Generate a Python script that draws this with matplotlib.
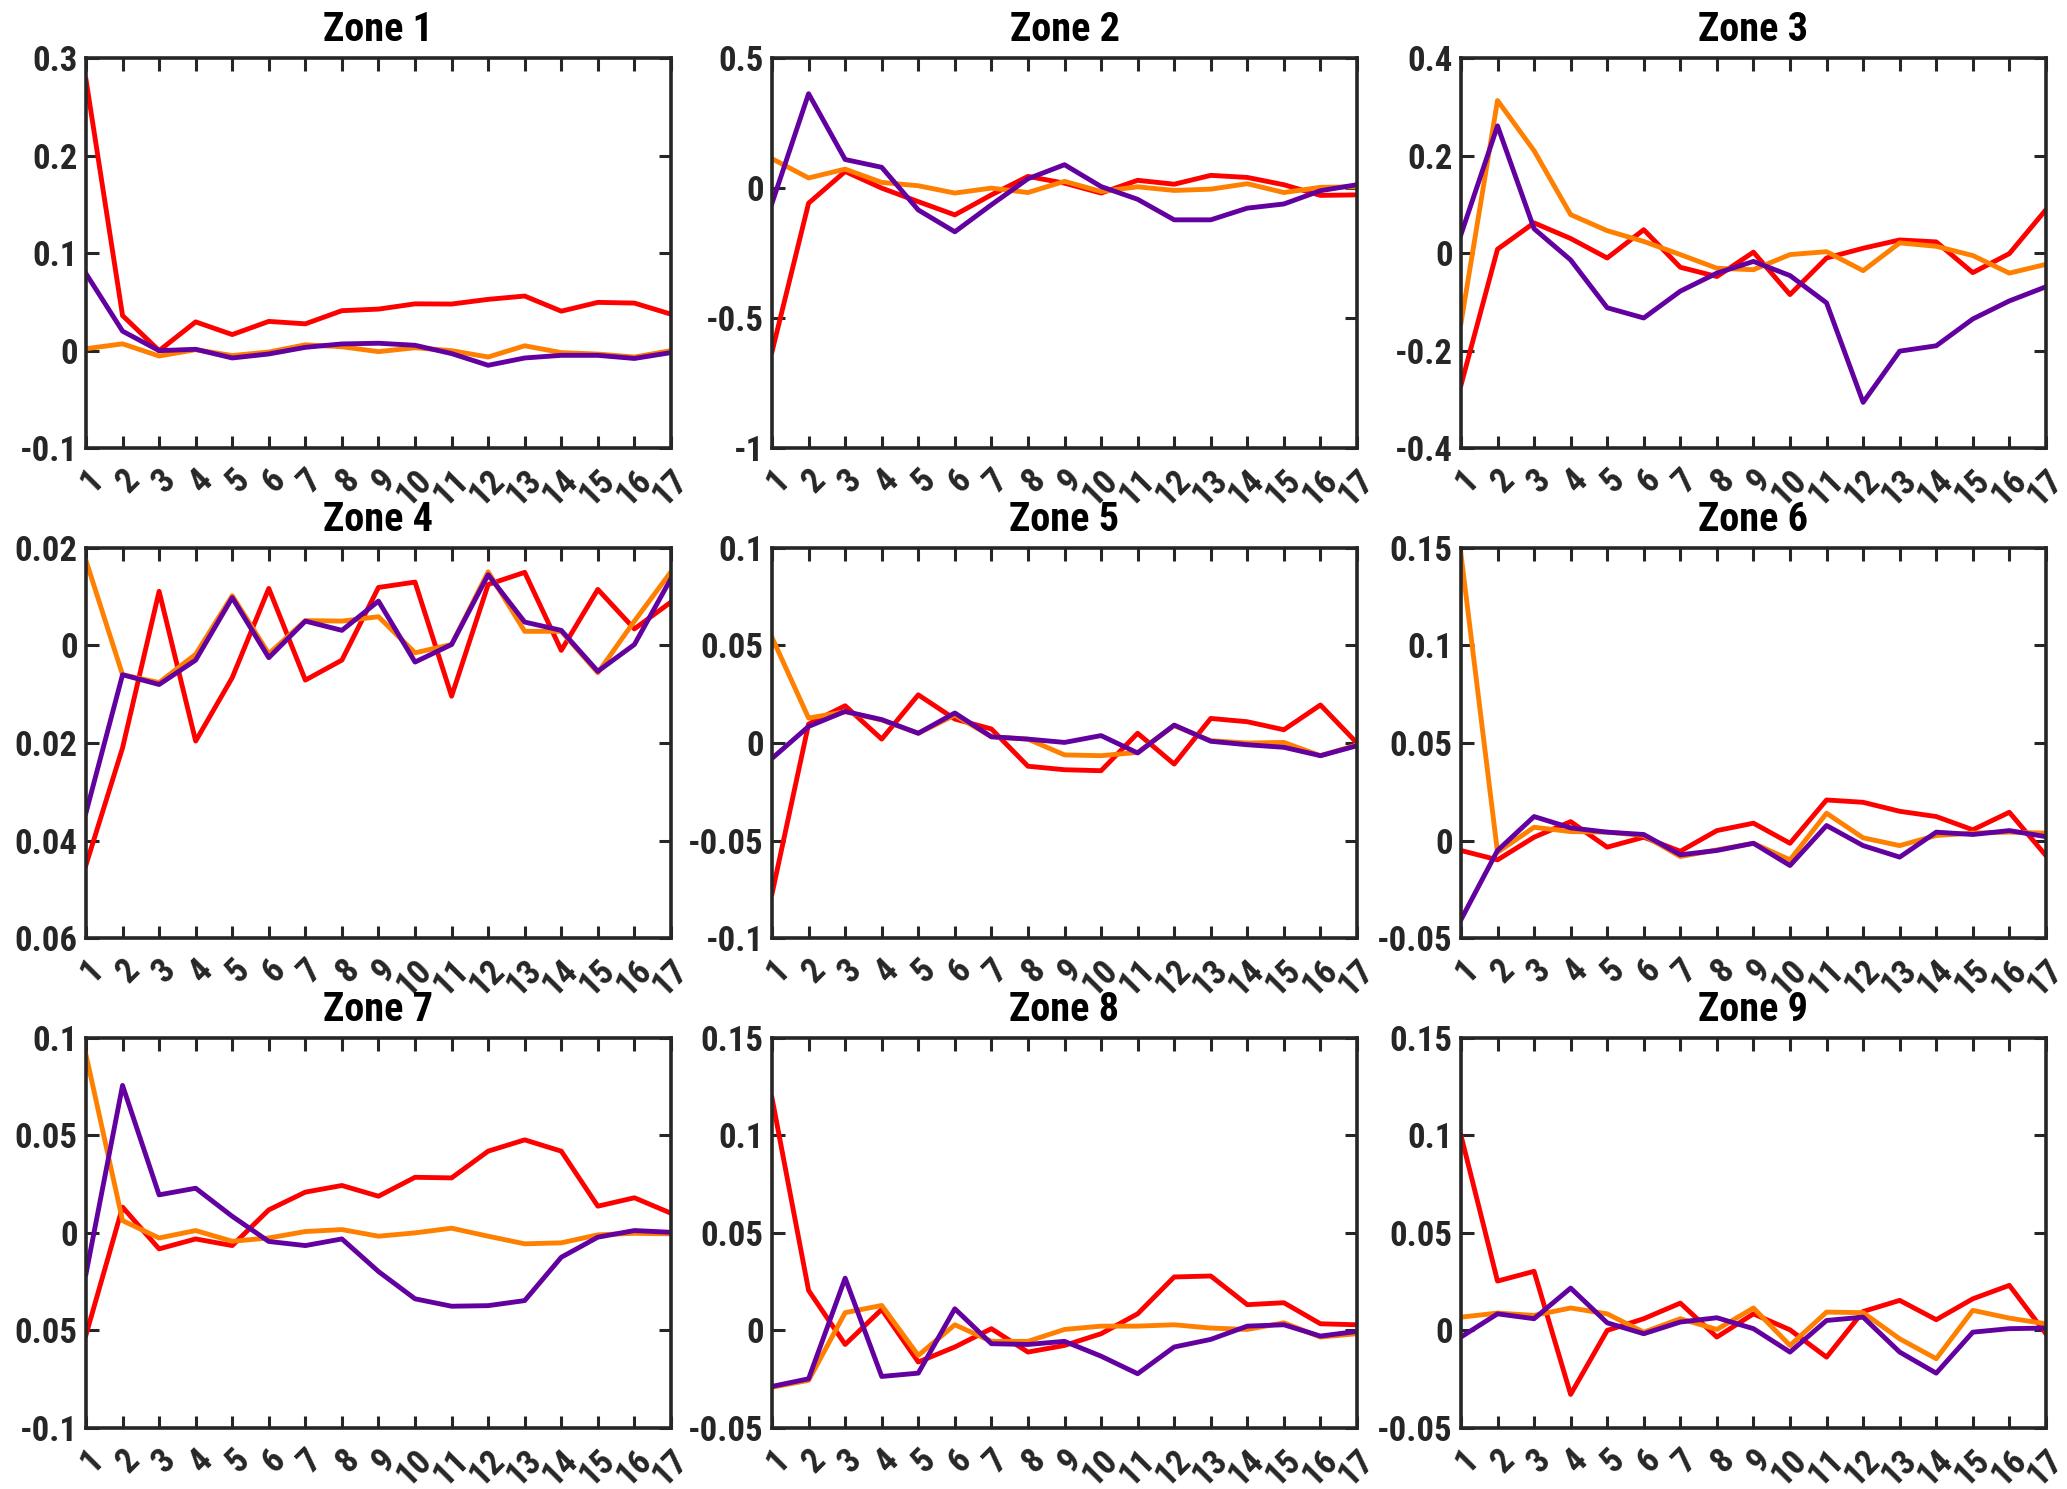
import numpy as np
import matplotlib
matplotlib.use("Agg")
import matplotlib.pyplot as plt
from matplotlib import font_manager

# pick a narrow-ish bold sans if one is installed
installed = {f.name for f in font_manager.fontManager.ttflist}
family = 'Liberation Sans'
for cand in ['Roboto Condensed', 'Liberation Sans Narrow', 'Open Sans Condensed', 'Liberation Sans']:
    if cand in installed:
        family = cand
        break
plt.rcParams['font.family'] = [family, 'DejaVu Sans']
plt.rcParams['font.weight'] = 'bold'
plt.rcParams['axes.unicode_minus'] = False

steps = list(range(1, 18))
zones = ['Zone 1', 'Zone 2', 'Zone 3', 'Zone 4', 'Zone 5', 'Zone 6', 'Zone 7', 'Zone 8', 'Zone 9']

# series per zone (red, orange, purple)
red = [
    [0.278, 0.036, 0.0, 0.0295, 0.0165, 0.030, 0.0275, 0.041, 0.0426, 0.048, 0.0478, 0.0526, 0.056, 0.0405, 0.0495, 0.0488, 0.0374],
    [-0.629, -0.058, 0.064, 0.0, -0.052, -0.103, -0.026, 0.045, 0.019, -0.019, 0.030, 0.015, 0.049, 0.041, 0.013, -0.028, -0.026],
    [-0.271, 0.008, 0.062, 0.030, -0.010, 0.048, -0.029, -0.048, 0.002, -0.085, -0.010, 0.010, 0.027, 0.023, -0.040, -0.001, 0.089],
    [-0.045, -0.021, 0.0111, -0.0196, -0.0066, 0.0117, -0.0071, -0.003, 0.0119, 0.013, -0.0104, 0.0125, 0.015, -0.001, 0.0115, 0.0034, 0.0089],
    [-0.0773, 0.0097, 0.0191, 0.002, 0.0247, 0.0123, 0.0072, -0.0119, -0.0137, -0.0142, 0.005, -0.0108, 0.0126, 0.0109, 0.0068, 0.0195, 0.0],
    [-0.0051, -0.0099, 0.0017, 0.0097, -0.0034, 0.0017, -0.0055, 0.0051, 0.0089, -0.0014, 0.0208, 0.0196, 0.015, 0.0123, 0.0055, 0.0145, -0.0077],
    [-0.0523, 0.0132, -0.0082, -0.0031, -0.0065, 0.0118, 0.0209, 0.0243, 0.0188, 0.0285, 0.0282, 0.0419, 0.0477, 0.0419, 0.0137, 0.018, 0.0101],
    [0.1191, 0.0205, -0.0072, 0.0108, -0.0162, -0.0085, 0.0009, -0.0111, -0.0077, -0.0017, 0.0085, 0.0274, 0.0279, 0.0132, 0.0142, 0.0034, 0.0029],
    [0.1, 0.0253, 0.0303, -0.0328, 0.0, 0.006, 0.014, -0.0034, 0.0085, 0.0003, -0.0137, 0.0097, 0.0154, 0.0055, 0.0162, 0.0231, -0.0017],
]
orange = [
    [0.002, 0.007, -0.0055, 0.001, -0.005, -0.0014, 0.006, 0.004, -0.001, 0.003, 0.0, -0.0065, 0.005, -0.002, -0.0035, -0.0065, 0.0],
    [0.113, 0.039, 0.073, 0.022, 0.009, -0.019, 0.0, -0.017, 0.026, -0.013, 0.005, -0.009, -0.004, 0.017, -0.017, 0.003, 0.005],
    [-0.144, 0.313, 0.210, 0.079, 0.046, 0.024, -0.003, -0.031, -0.034, -0.003, 0.003, -0.036, 0.021, 0.014, -0.005, -0.041, -0.023],
    [0.0174, -0.006, -0.0076, -0.0018, 0.0102, -0.0017, 0.0051, 0.005, 0.0059, -0.0015, 0.0002, 0.0151, 0.0029, 0.0029, -0.0056, 0.005, 0.0151],
    [0.0541, 0.0128, 0.016, 0.0118, 0.005, 0.0143, 0.0032, 0.002, -0.0061, -0.0065, -0.0048, 0.0089, 0.0012, 0.0, 0.0003, -0.0065, -0.001],
    [0.1468, -0.006, 0.0068, 0.0046, 0.0043, 0.0026, -0.0082, -0.0048, -0.0014, -0.0099, 0.014, 0.0014, -0.0026, 0.0026, 0.0038, 0.0043, 0.0038],
    [0.0913, 0.0063, -0.0026, 0.0012, -0.0043, -0.0026, 0.0007, 0.0017, -0.0017, 0.0, 0.0024, -0.0017, -0.0056, -0.0051, -0.001, -0.0002, -0.0005],
    [-0.0291, -0.0256, 0.0091, 0.0128, -0.0128, 0.0029, -0.0056, -0.0056, 0.0005, 0.0022, 0.0022, 0.0029, 0.0012, 0.0005, 0.0039, -0.0034, -0.0017],
    [0.0068, 0.0089, 0.0077, 0.0115, 0.0085, -0.0009, 0.006, 0.0005, 0.0115, -0.0077, 0.0094, 0.0091, -0.0043, -0.0145, 0.0103, 0.0063, 0.0034],
]
purple = [
    [0.079, 0.020, 0.0, 0.0014, -0.0075, -0.0034, 0.0034, 0.0069, 0.0076, 0.0055, -0.003, -0.015, -0.0075, -0.0048, -0.0048, -0.008, -0.002],
    [-0.058, 0.363, 0.110, 0.080, -0.084, -0.168, -0.064, 0.036, 0.090, 0.006, -0.043, -0.122, -0.122, -0.077, -0.061, -0.010, 0.013],
    [0.038, 0.261, 0.050, -0.014, -0.112, -0.133, -0.078, -0.041, -0.017, -0.046, -0.102, -0.306, -0.201, -0.190, -0.135, -0.098, -0.069],
    [-0.0343, -0.006, -0.008, -0.003, 0.0098, -0.0025, 0.005, 0.0031, 0.0091, -0.0034, 0.0002, 0.0145, 0.0048, 0.0031, -0.0053, 0.0002, 0.0137],
    [-0.0079, 0.0085, 0.0162, 0.012, 0.005, 0.0154, 0.0032, 0.002, 0.0003, 0.0038, -0.0051, 0.0092, 0.0009, -0.0009, -0.0022, -0.0065, -0.0014],
    [-0.0406, -0.0051, 0.0123, 0.0065, 0.0043, 0.0031, -0.0073, -0.0051, -0.0014, -0.0128, 0.0077, -0.0026, -0.0085, 0.0043, 0.0031, 0.0051, 0.002],
    [-0.021, 0.0756, 0.0195, 0.0229, 0.0085, -0.0044, -0.0065, -0.0031, -0.0198, -0.0338, -0.0376, -0.0373, -0.0347, -0.0125, -0.0022, 0.0012, 0.0003],
    [-0.0287, -0.0248, 0.0268, -0.0236, -0.0219, 0.0111, -0.0068, -0.0072, -0.0056, -0.0132, -0.0222, -0.0085, -0.0046, 0.0022, 0.0029, -0.0029, -0.0005],
    [-0.0034, 0.0085, 0.006, 0.0217, 0.0039, -0.0017, 0.0043, 0.0065, 0.0009, -0.0111, 0.0051, 0.0068, -0.0111, -0.0219, -0.0009, 0.0009, 0.0012],
]

# y ticks and labels as printed on the original
yticks = [
    [0.3, 0.2, 0.1, 0, -0.1],
    [0.5, 0, -0.5, -1],
    [0.4, 0.2, 0, -0.2, -0.4],
    [0.02, 0, -0.02, -0.04, -0.06],
    [0.1, 0.05, 0, -0.05, -0.1],
    [0.15, 0.1, 0.05, 0, -0.05],
    [0.1, 0.05, 0, -0.05, -0.1],
    [0.15, 0.1, 0.05, 0, -0.05],
    [0.15, 0.1, 0.05, 0, -0.05],
]
ylabels = [
    ['0.3', '0.2', '0.1', '0', '-0.1'],
    ['0.5', '0', '-0.5', '-1'],
    ['0.4', '0.2', '0', '-0.2', '-0.4'],
    ['0.02', '0', '0.02', '0.04', '0.06'],
    ['0.1', '0.05', '0', '-0.05', '-0.1'],
    ['0.15', '0.1', '0.05', '0', '-0.05'],
    ['0.1', '0.05', '0', '0.05', '-0.1'],
    ['0.15', '0.1', '0.05', '0', '-0.05'],
    ['0.15', '0.1', '0.05', '0', '-0.05'],
]

colors = ['#ff0000', '#ff8000', '#6300a0']

fig = plt.figure(figsize=(20.67, 14.89), dpi=100)
lefts = [0.0416, 0.3735, 0.7068]
bottoms = [0.699, 0.370, 0.041]
w, h = 0.283, 0.262

for i in range(9):
    r, c = divmod(i, 3)
    ax = fig.add_axes([lefts[c], bottoms[r], w, h])
    for series, col in zip([red, orange, purple], colors):
        ax.plot(steps, series[i], color=col, lw=3.5)
    ax.set_xlim(1, 17)
    ax.set_ylim(min(yticks[i]), max(yticks[i]))
    ax.set_yticks(yticks[i])
    ax.set_yticklabels(ylabels[i])
    ax.set_xticks(steps)
    ax.set_xticklabels([str(s) for s in steps], rotation=45, ha='right',
                       va='top', rotation_mode='anchor')
    ax.tick_params(direction='in', length=9, width=2.2, top=True, right=True,
                   labelsize=25, color='#262626', labelcolor='#262626')
    ax.tick_params(axis='y', pad=6)
    ax.tick_params(axis='x', pad=11)
    for sp in ax.spines.values():
        sp.set_linewidth(2.6)
        sp.set_color('#262626')
    ax.set_title(zones[i], fontsize=29, fontweight='bold', pad=12)

fig.savefig('out.png', dpi=100)
